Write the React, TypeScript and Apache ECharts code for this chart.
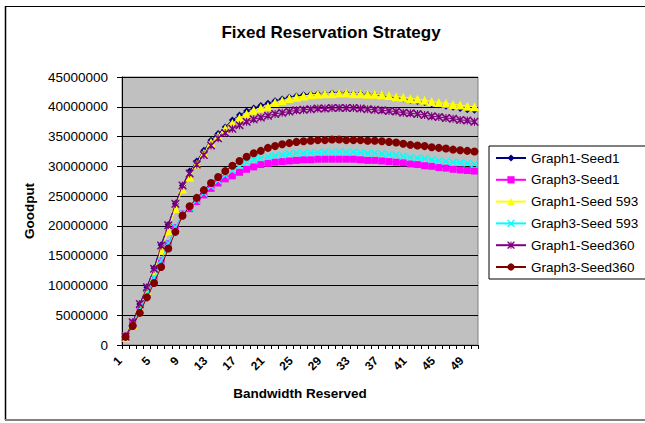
import React, { useEffect, useRef } from "react";
import * as echarts from "echarts";

const categories = Array.from({ length: 50 }, (_, i) => String(i + 1));

const seriesNames = [
  "Graph1-Seed1",
  "Graph3-Seed1",
  "Graph1-Seed 593",
  "Graph3-Seed 593",
  "Graph1-Seed360",
  "Graph3-Seed360",
];

const graph1Seed1 = [
  1400000, 3800000, 6900000, 9700000, 12900000, 16800000, 20200000, 23700000, 26800000, 29200000,
  30900000, 32700000, 34400000, 35500000, 36600000, 37800000, 38600000, 39300000, 39800000, 40200000,
  40600000, 41000000, 41300000, 41600000, 41800000, 42000000, 42100000, 42200000, 42200000, 42300000,
  42300000, 42300000, 42200000, 42200000, 42100000, 42000000, 41900000, 41700000, 41500000, 41300000,
  41100000, 40900000, 40700000, 40500000, 40300000, 40100000, 39900000, 39700000, 39500000, 39400000,
];

const graph3Seed1 = [
  1500000, 3700000, 5800000, 8500000, 11200000, 14100000, 17000000, 19700000, 22000000, 22900000,
  24100000, 25200000, 26300000, 27200000, 27900000, 28400000, 29000000, 29500000, 29900000, 30300000,
  30500000, 30700000, 30800000, 30900000, 31000000, 31100000, 31100000, 31200000, 31200000, 31200000,
  31200000, 31200000, 31200000, 31100000, 31000000, 31000000, 30900000, 30800000, 30700000, 30600000,
  30400000, 30300000, 30100000, 30000000, 29800000, 29700000, 29500000, 29400000, 29300000, 29200000,
];

const graph1Seed593 = [
  1300000, 3500000, 6300000, 9200000, 12400000, 15900000, 19200000, 22900000, 26200000, 28200000,
  30400000, 32200000, 34000000, 35100000, 36300000, 37200000, 38100000, 38800000, 39400000, 39800000,
  40100000, 40700000, 41000000, 41400000, 41600000, 41800000, 42000000, 42100000, 42200000, 42200000,
  42300000, 42300000, 42200000, 42200000, 42100000, 42100000, 42000000, 41900000, 41700000, 41600000,
  41400000, 41300000, 41100000, 40900000, 40700000, 40600000, 40400000, 40300000, 40100000, 40000000,
];

const graph3Seed593 = [
  1500000, 3700000, 5900000, 8600000, 11300000, 14200000, 17100000, 19800000, 22100000, 23100000,
  24300000, 25500000, 26600000, 27600000, 28500000, 29300000, 30100000, 30700000, 31100000, 31400000,
  31600000, 31800000, 31900000, 32100000, 32200000, 32200000, 32300000, 32300000, 32400000, 32400000,
  32400000, 32400000, 32400000, 32300000, 32200000, 32200000, 32100000, 32000000, 31900000, 31700000,
  31500000, 31400000, 31300000, 31100000, 30900000, 30800000, 30700000, 30600000, 30500000, 30400000,
];

const graph1Seed360 = [
  1400000, 3800000, 6900000, 9700000, 12800000, 16700000, 20100000, 23700000, 26800000, 28800000,
  30300000, 31900000, 33500000, 34700000, 35600000, 36300000, 36900000, 37500000, 37900000, 38200000,
  38500000, 38800000, 39000000, 39200000, 39400000, 39500000, 39600000, 39700000, 39700000, 39800000,
  39800000, 39800000, 39800000, 39700000, 39600000, 39500000, 39400000, 39300000, 39200000, 39000000,
  38900000, 38800000, 38600000, 38400000, 38300000, 38100000, 38000000, 37800000, 37700000, 37500000,
];

const graph3Seed360 = [
  1400000, 3200000, 5400000, 8000000, 10400000, 13100000, 16200000, 19000000, 21700000, 23300000,
  24700000, 26000000, 27200000, 28200000, 29200000, 30100000, 30900000, 31600000, 32200000, 32600000,
  33100000, 33400000, 33700000, 33900000, 34100000, 34200000, 34300000, 34400000, 34400000, 34500000,
  34500000, 34400000, 34400000, 34400000, 34300000, 34300000, 34200000, 34100000, 34000000, 33800000,
  33600000, 33500000, 33400000, 33200000, 33100000, 33000000, 32800000, 32700000, 32600000, 32500000,
];

const seriesData = [graph1Seed1, graph3Seed1, graph1Seed593, graph3Seed593, graph1Seed360, graph3Seed360];
const seriesColors = ["#000080", "#FF00FF", "#FFFF00", "#00FFFF", "#800080", "#800000"];

const X_PATH =
  "path://M0,0 L1.4,0 L5,3.6 L8.6,0 L10,0 L10,1.4 L6.4,5 L10,8.6 L10,10 L8.6,10 L5,6.4 L1.4,10 L0,10 L0,8.6 L3.6,5 L0,1.4 Z";
const STAR_PATH =
  "path://M0,0 L1.4,0 L5,3.6 L8.6,0 L10,0 L10,1.4 L6.4,5 L10,8.6 L10,10 L8.6,10 L5,6.4 L1.4,10 L0,10 L0,8.6 L3.6,5 L0,1.4 Z M4.3,0 L5.7,0 L5.7,10 L4.3,10 Z";

const seriesSymbols = ["diamond", "rect", "triangle", X_PATH, STAR_PATH, "circle"];
const seriesSymbolSizes = [7, 7, 9, 7, 8, 8];

export default function App() {
  const ref = useRef<HTMLDivElement>(null);

  useEffect(() => {
    document.body.style.margin = "0";
    if (!ref.current) return;
    const chart = echarts.init(ref.current, undefined, { renderer: "svg" });
    const font = "Arial, 'Liberation Sans', sans-serif";
    chart.setOption({
      animation: false,
      backgroundColor: "#FFFFFF",
      textStyle: { fontFamily: font },
      title: {
        text: "Fixed Reservation Strategy",
        left: 326,
        top: 19,
        textAlign: "center",
        textStyle: { fontSize: 17, fontWeight: "bold", color: "#000", fontFamily: font },
      },
      graphic: [
        { type: "line", shape: { x1: 5, y1: 6.5, x2: 645, y2: 6.5 }, style: { stroke: "#000", lineWidth: 1 } },
        { type: "line", shape: { x1: 5.5, y1: 6, x2: 5.5, y2: 420 }, style: { stroke: "#000", lineWidth: 1.5 } },
        { type: "line", shape: { x1: 5, y1: 420, x2: 645, y2: 420 }, style: { stroke: "#808080", lineWidth: 2 } },
      ],
      legend: {
        orient: "vertical",
        left: 489,
        top: 146,
        data: seriesNames,
        backgroundColor: "#FFFFFF",
        borderColor: "#000",
        borderWidth: 1,
        borderRadius: 0,
        padding: [5, 30, 5, 6],
        itemWidth: 30,
        itemHeight: 9,
        itemGap: 7.8,
        textStyle: { fontSize: 13.5, color: "#000", fontFamily: font },
      },
      grid: {
        left: 122,
        top: 77,
        right: 167,
        bottom: 78,
        show: true,
        backgroundColor: "#C0C0C0",
        borderColor: "#808080",
        borderWidth: 1,
      },
      xAxis: {
        type: "category",
        data: categories,
        boundaryGap: true,
        name: "Bandwidth Reserved",
        nameLocation: "middle",
        nameGap: 41,
        nameMoveOverlap: false,
        nameTextStyle: { fontSize: 13.5, fontWeight: "bold", color: "#000", fontFamily: font },
        axisLine: { show: true, lineStyle: { color: "#000", width: 1 } },
        axisTick: { show: true, interval: 0, length: 4, lineStyle: { color: "#000" } },
        axisLabel: {
          interval: 3,
          rotate: 45,
          fontSize: 12,
          fontWeight: "bold",
          color: "#000",
          margin: 8,
          padding: [0, 8, 0, 0],
          fontFamily: font,
        },
        splitLine: { show: false },
      },
      yAxis: {
        type: "value",
        min: 0,
        max: 45000000,
        interval: 5000000,
        name: "Goodput",
        nameLocation: "middle",
        nameRotate: 90,
        nameGap: 86,
        nameMoveOverlap: false,
        nameTextStyle: { fontSize: 13.5, fontWeight: "bold", color: "#000", fontFamily: font },
        axisLine: { show: true, lineStyle: { color: "#000", width: 1 } },
        axisTick: { show: true, length: 5, inside: false, lineStyle: { color: "#000" } },
        axisLabel: {
          fontSize: 13.5,
          color: "#000",
          margin: 14,
          fontFamily: font,
          formatter: (v: number) => String(v),
        },
        splitLine: { show: true, lineStyle: { color: "#000", width: 1 } },
      },
      series: seriesNames.map((name, i) => ({
        name,
        type: "line",
        data: seriesData[i],
        symbol: seriesSymbols[i],
        symbolSize: seriesSymbolSizes[i],
        showAllSymbol: true,
        color: seriesColors[i],
        lineStyle: { color: seriesColors[i], width: 1 },
        itemStyle: { color: seriesColors[i], borderWidth: 0 },
        z: 2 + i,
      })),
    });
    return () => chart.dispose();
  }, []);

  return <div ref={ref} style={{ width: 645, height: 423 }} />;
}
